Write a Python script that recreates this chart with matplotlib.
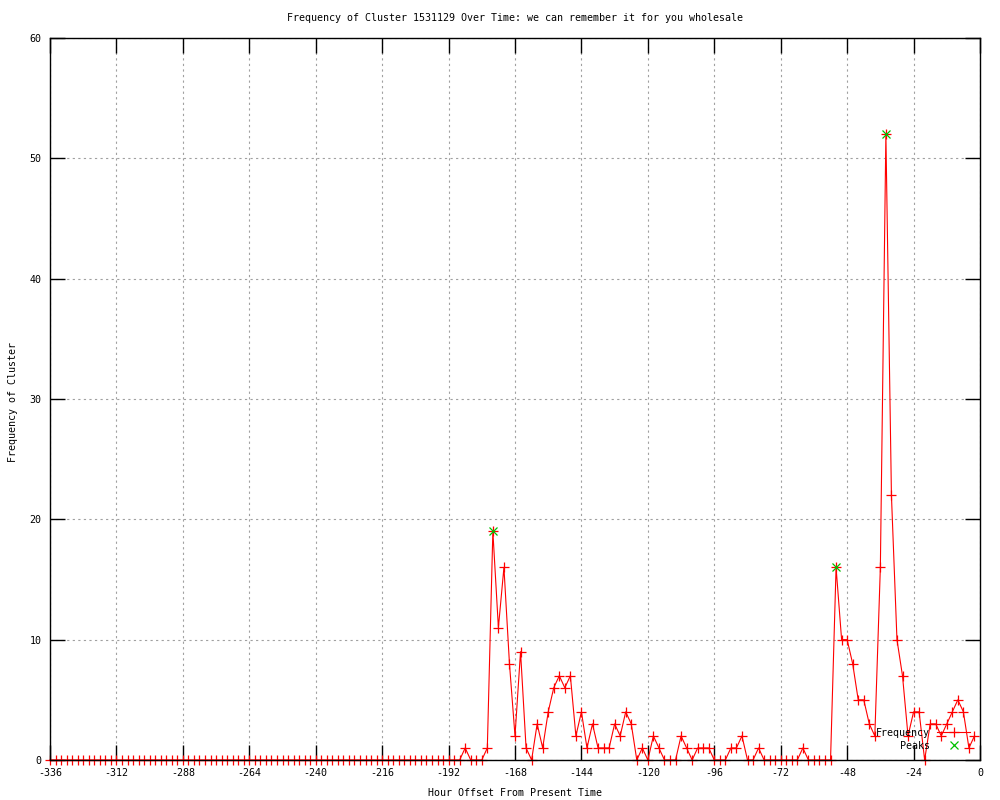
import numpy as np
import matplotlib
matplotlib.use("Agg")
import matplotlib.pyplot as plt

# hour offsets, one bin every two hours
hours = list(range(-336, 0, 2))

frequency = [
    0, 0, 0, 0, 0, 0, 0, 0, 0, 0, 0, 0, 0, 0, 0, 0, 0, 0, 0, 0,
    0, 0, 0, 0, 0, 0, 0, 0, 0, 0, 0, 0, 0, 0, 0, 0, 0, 0, 0, 0,
    0, 0, 0, 0, 0, 0, 0, 0, 0, 0, 0, 0, 0, 0, 0, 0, 0, 0, 0, 0,
    0, 0, 0, 0, 0, 0, 0, 0, 0, 0, 0, 0, 0, 0, 0,
    1, 0, 0, 0, 1, 19, 11, 16, 8, 2, 9, 1, 0, 3, 1, 4, 6, 7, 6, 7,
    2, 4, 1, 3, 1, 1, 1, 3, 2, 4, 3, 0, 1, 0, 2, 1, 0, 0, 0, 2,
    1, 0, 1, 1, 1, 0, 0, 0, 1, 1, 2, 0, 0, 1, 0, 0, 0, 0, 0, 0,
    0, 1, 0, 0, 0, 0, 0, 16, 10, 10, 8, 5, 5, 3, 2, 16, 52, 22, 10, 7,
    2, 4, 4, 0, 3, 3, 2, 3, 4, 5, 4, 1, 2,
]

peak_hours = [-176, -52, -34]
peak_values = [19, 16, 52]

x_ticks = list(range(-336, 1, 24))
y_ticks = list(range(0, 61, 10))

matplotlib.rcParams['font.family'] = 'DejaVu Sans Mono'
matplotlib.rcParams['axes.unicode_minus'] = False
FS = 7.2

fig = plt.figure(figsize=(10, 8), dpi=100)
ax = fig.add_axes([0.05, 0.05, 0.93, 0.9025])

ax.plot(hours, frequency, color='#ff0000', linewidth=0.8, marker='+',
        markersize=6.5, markeredgewidth=0.9, clip_on=False, label='Frequency', zorder=3)
ax.plot(peak_hours, peak_values, color='#00c000', linestyle='none', marker='x',
        markersize=5.5, markeredgewidth=0.9, clip_on=False, label='    Peaks', zorder=4)

ax.set_xlim(-336, 0)
ax.set_ylim(0, 60)
ax.set_xticks(x_ticks)
ax.set_yticks(y_ticks)
ax.tick_params(direction='in', length=11, width=1, top=True, right=True, labelsize=FS,
               colors='black')
ax.tick_params(axis='x', pad=6)
ax.tick_params(axis='y', pad=6)
ax.grid(True, color='#a0a0a0', linestyle=(0, (2, 3)), linewidth=0.8)
for s in ax.spines.values():
    s.set_linewidth(1)
    s.set_zorder(5)

fig.text(0.515, 1 - 18 / 800, "Frequency of Cluster 1531129 Over Time: we can remember it for you wholesale",
         ha='center', va='center', fontsize=FS)
fig.text(0.515, 1 - 793 / 800, "Hour Offset From Present Time", ha='center', va='center', fontsize=FS)
fig.text(0.013, 1 - 402 / 800, "Frequency of Cluster", ha='center', va='center', rotation=90, fontsize=FS)

lgd = ax.legend(loc='lower right', bbox_to_anchor=(0.9895, 0.013), borderaxespad=0, frameon=False,
                markerfirst=False, fontsize=FS, handlelength=3.3, handletextpad=0.7,
                labelspacing=0.3, borderpad=0)

fig.savefig('out.png', dpi=100)
